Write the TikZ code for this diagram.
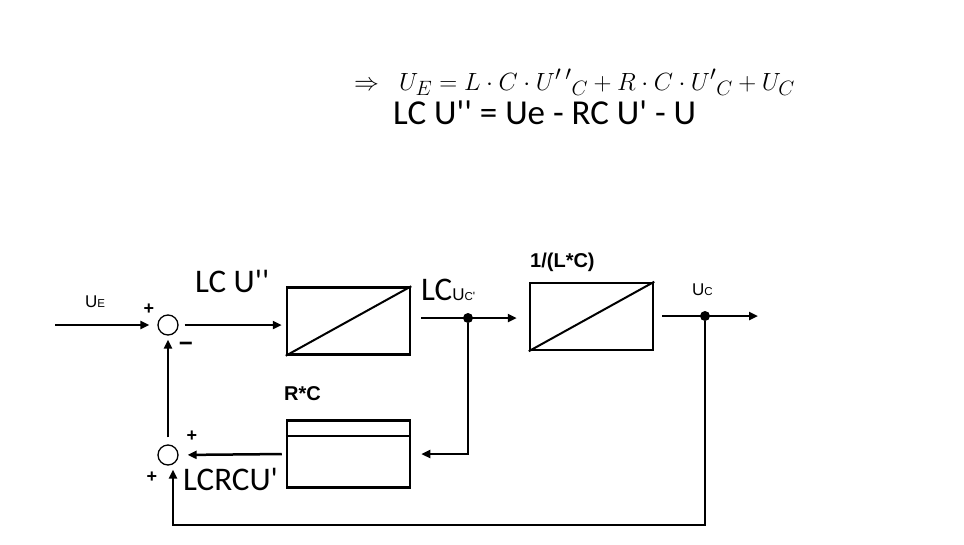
\documentclass[tikz,border=0pt]{standalone}
\usepackage{amsmath}
\usepackage{fontspec}
\setmainfont{Carlito}
\newfontfamily\arialfont{Liberation Sans}
\usetikzlibrary{positioning,arrows.meta}

\newcommand{\strq}{\textquotesingle}
\newcommand{\Ulabel}[1]{{\arialfont\fontsize{17}{17}\selectfont U\fontsize{11.5}{12}\selectfont #1}}

\begin{document}
\begin{tikzpicture}[x=1pt,y=-1pt,
    blockbox/.style={draw, line width=2.5pt, minimum width=123pt, minimum height=67pt, inner sep=0pt},
    sumring/.style={circle, draw, line width=1.3pt, minimum size=20pt, inner sep=0pt},
    flow/.style={line width=2.5pt, -{Triangle[length=9pt,width=8pt]}},
    dotjoint/.style={circle, fill, inner sep=0pt, minimum size=10pt},
    big/.style={font=\fontsize{33}{36}\selectfont},
    sign/.style={font=\arialfont\bfseries\fontsize{18}{18}\selectfont, inner sep=0pt},
    tag/.style={font=\arialfont\bfseries\fontsize{20}{20}\selectfont}]
    \useasboundingbox (0,0) rectangle (964,544);

    % Equations
    \node[anchor=base west, font=\fontsize{29}{30}\selectfont, inner sep=0pt] (eqA) at (354,90)
        {$\Rightarrow\ \ U_{\raisebox{2pt}{$\scriptstyle E$}} = L\cdot C\cdot {U'\,'}_{\raisebox{2pt}{$\scriptstyle C$}}
         + R\cdot C\cdot {U'}_{\raisebox{2pt}{$\scriptstyle C$}} + U_{\raisebox{2pt}{$\scriptstyle C$}}$};
    \node[anchor=base west, font=\fontsize{35}{36}\selectfont, inner sep=0pt] (eqB) at (393,124)
        {LC U\strq\strq{} = Ue - RC U\strq{} - U};

    % Blocks
    \node[blockbox] (integ1) at (348.5,321) {};
    \node[blockbox] (integ2) at (591.5,316.5) {};
    \node[blockbox] (damp) at (348.5,454) {};
    \draw[line width=2pt] (integ1.south west) -- (integ1.north east);
    \draw[line width=2pt] (integ2.south west) -- (integ2.north east);
    \draw[line width=2pt] ([yshift=-17pt]damp.north west) -- ([yshift=-17pt]damp.north east);

    % Summing points and branch points
    \node[sumring] (sumA) at (168,325) {};
    \node[sumring] (sumB) at (168,455) {};
    \node[dotjoint] (jA) at (468,318) {};
    \node[dotjoint] (jB) at (705,316) {};
    \coordinate (src) at (55,325);
    \coordinate (sink) at (760,316);
    \coordinate (corner) at (173,525);

    % Signal flow
    \draw[flow, shorten >=8pt] (src) -- (sumA.west);
    \draw[flow, shorten <=6pt, shorten >=4pt] (sumA.east) -- (sumA.east -| integ1.west);
    \draw[flow, shorten <=10pt, shorten >=12pt] (integ1.east |- jA) -- (integ2.west |- jA);
    \draw[flow, shorten <=8pt, shorten >=2pt] (integ2.east |- jB) -- (sink);
    \draw[flow, shorten >=10pt] (jA) |- (damp.east);
    \draw[flow, shorten <=4pt, shorten >=9pt] (damp.west) -- (sumB.east);
    \draw[flow, shorten <=7pt, shorten >=4pt] (sumB.north) -- (sumA.south);
    \draw[flow, shorten >=4pt] (jB) |- (corner) -- (corner |- sumB.south);

    % Labels
    \node[anchor=base west, inner sep=0pt] (lblE) at (85,307) {\Ulabel{E}};
    \node[anchor=base west, big, inner sep=0pt] (lblA) at (195,292) {LC U\strq\strq};
    \node[anchor=base west, inner sep=0pt] (lblB) at (421,300)
        {\fontsize{33}{36}\selectfont LC\Ulabel{C}{\arialfont\fontsize{12}{12}\selectfont\strq}};
    \node[anchor=base west, tag, inner sep=0pt] (lblG) at (530,267) {1/(L*C)};
    \node[anchor=base west, inner sep=0pt] (lblC) at (692,295) {\Ulabel{C}};
    \node[anchor=base west, tag, inner sep=0pt] (lblR) at (284,400) {R*C};
    \node[anchor=base west, big, inner sep=0pt] (lblD) at (183,490) {LCRCU\strq};

    % Signs
    \node[sign] (sgA) at (149,309) {+};
    \node[sign, font=\arialfont\bfseries\fontsize{24}{24}\selectfont] (sgB) at (186,347) {\char"2212};
    \node[sign] (sgC) at (192,436) {+};
    \node[sign] (sgD) at (152,477) {+};
\end{tikzpicture}
\end{document}
